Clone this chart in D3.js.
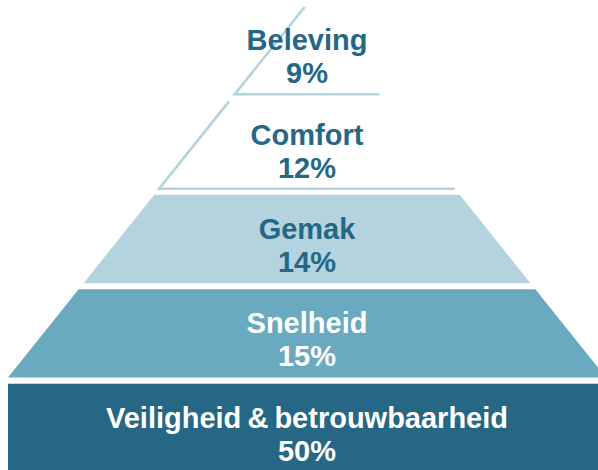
<!DOCTYPE html>
<html>
<head>
<meta charset="utf-8">
<script src="https://d3js.org/d3.v7.min.js"></script>
<style>
    html, body { margin: 0; padding: 0; background: #fff; }
    svg { display: block; }
</style>
</head>
<body>
<div id="chart-container"></div>
<script>
// - - Data - -
const layers = ["Beleving", "Comfort", "Gemak", "Snelheid", "Veiligheid & betrouwbaarheid"];
const shares = [9, 12, 14, 15, 50];

// Chart Sizing
const WIDTH = 598;
const HEIGHT = 470;
const centerX = 307;
const apexY = 4;
const baseHalf = 299;

// Layer colours
const fill = d3.scaleOrdinal()
    .domain(layers)
    .range(["none", "none", "#b3d3df", "#6aaac0", "#256784"]);

const textColor = d3.scaleOrdinal()
    .domain(layers)
    .range(["#256784", "#256784", "#256784", "#ffffff", "#ffffff"]);

const lineColor = "#b3d3df";

// - - Build the Pyramid - -
function drawPyramid(svg) {
    const y = d3.scaleBand()
        .domain(layers)
        .range([6, HEIGHT + 2])
        .paddingInner(0.065);

    const baseY = y("Snelheid") + y.bandwidth();

    // half width of the pyramid at a given height
    const half = d3.scaleLinear()
        .domain([apexY, baseY])
        .range([0, baseHalf]);

    const rows = layers.map((name, i) => ({ name, share: shares[i], i }));

    const g = svg.append("g");

    rows.forEach(d => {
        const top = y(d.name);
        const bot = top + y.bandwidth();

        if (d.i < 2) {
            // outlined layers: left edge and bottom edge only
            const l0 = centerX - half(top + 1);
            const l1 = centerX - half(bot);
            const r1 = centerX + half(bot);
            g.append("path")
                .attr("d", `M${l0},${top + 1}L${l1},${bot}L${r1},${bot}`)
                .attr("fill", "none")
                .attr("stroke", lineColor)
                .attr("stroke-width", 2.6);
        } else if (d.i < 4) {
            const pts = [
                [centerX - half(top), top],
                [centerX + half(top), top],
                [centerX + half(bot), bot],
                [centerX - half(bot), bot]
            ];
            g.append("polygon")
                .attr("points", pts.map(p => p.join(",")).join(" "))
                .attr("fill", fill(d.name));
        } else {
            g.append("rect")
                .attr("x", centerX - baseHalf)
                .attr("y", top)
                .attr("width", baseHalf * 2)
                .attr("height", bot - top)
                .attr("fill", fill(d.name));
        }

        const mid = top + y.bandwidth() / 2;
        const label = g.append("text")
            .attr("x", centerX)
            .attr("text-anchor", "middle")
            .attr("font-family", "'Liberation Sans', Arial, sans-serif")
            .attr("font-weight", "bold")
            .attr("font-size", 29)
            .attr("word-spacing", -2)
            .attr("fill", textColor(d.name));

        label.append("tspan")
            .attr("x", centerX)
            .attr("y", mid)
            .text(d.name);

        label.append("tspan")
            .attr("x", centerX)
            .attr("y", mid + 33)
            .text(`${d.share}%`);
    });
}

//  - - Main Execution - -
function main() {
    const svg = d3.select("#chart-container")
        .append("svg")
            .attr("width", WIDTH)
            .attr("height", HEIGHT);

    drawPyramid(svg);
}

main();
</script>
</body>
</html>
